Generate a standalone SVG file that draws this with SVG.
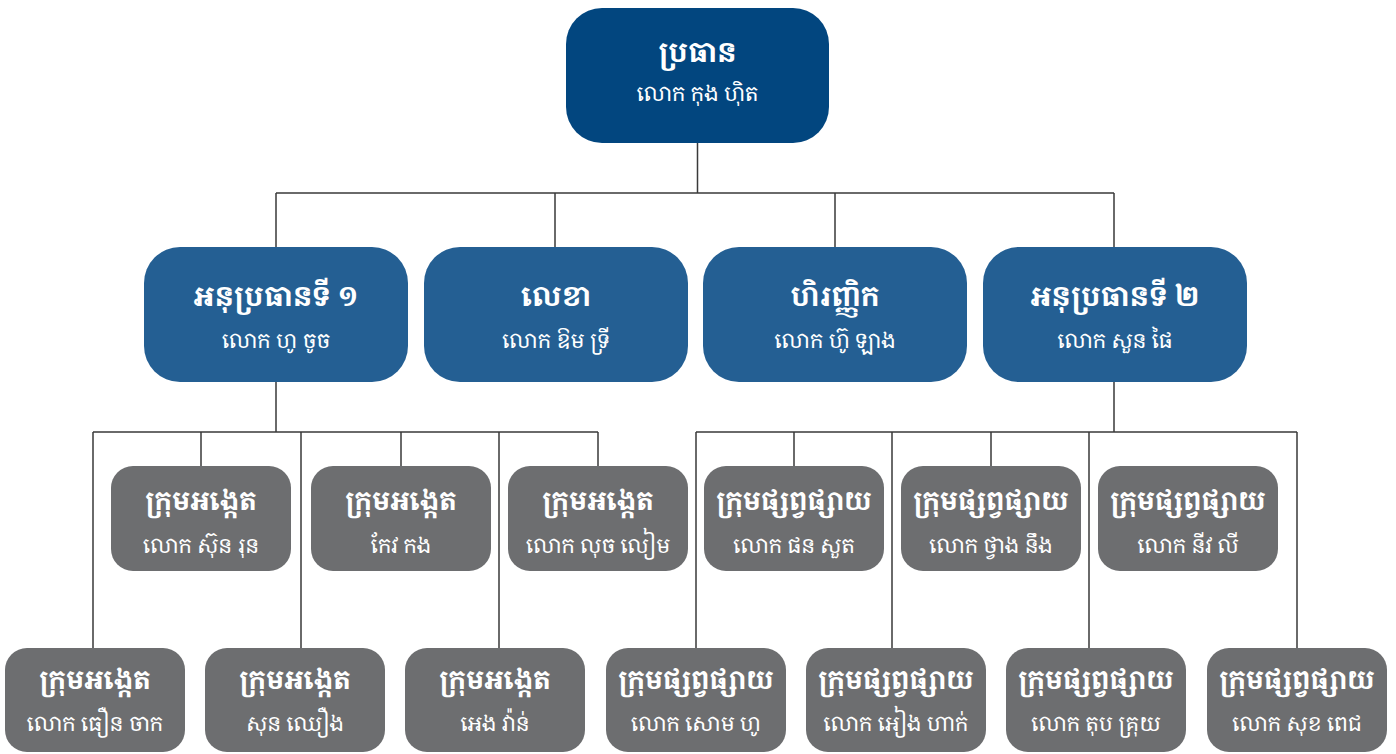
<svg xmlns="http://www.w3.org/2000/svg" width="1396" height="754" viewBox="0 0 1396 754">
<style>
text{font-family:"Noto Serif Khmer","Khmer OS Battambang","Noto Sans Khmer","Khmer OS",sans-serif;fill:#fff;text-anchor:middle}
.t1{font-size:28px;font-weight:bold}
.t2{font-size:21px}
.t3{font-size:26px;font-weight:bold}
.top{fill:#02467f}
.l2{fill:#245f93}
.gr{fill:#6d6e70}
#connectors path{fill:none;stroke:#3a3a3a;stroke-width:1.5}
</style>
<rect width="1396" height="754" fill="#fff"/>
<g id="connectors">
<path d="M697.5 143V193M276 193H1114M276 193V247M555 193V247M835 193V247M1114 193V247"/>
<path d="M276 382V432M93 432H598M93 432V648M201 432V466M301 432V648M401 432V466M499 432V648M598 432V466"/>
<path d="M1114 382V432M696 432H1297M696 432V648M794 432V466M892 432V648M991 432V466M1089 432V648M1297 432V648"/>
</g>
<g id="n-chair"><rect class="top" x="566" y="8" width="263" height="135" rx="36"/><text class="t1" x="697.5" y="62">ប្រធាន</text><text class="t2" x="697.5" y="101">លោក កុង ហ៊ិត</text></g>
<g id="n-vice1"><rect class="l2" x="144" y="247" width="264" height="135" rx="36"/><text class="t1" x="276" y="306">អនុប្រធានទី ១</text><text class="t2" x="276" y="348">លោក ហូ ចូច</text></g>
<g id="n-secretary"><rect class="l2" x="424" y="247" width="264" height="135" rx="36"/><text class="t1" x="556" y="306">លេខា</text><text class="t2" x="556" y="348">លោក ឱម ទ្រី</text></g>
<g id="n-treasurer"><rect class="l2" x="703" y="247" width="264" height="135" rx="36"/><text class="t1" x="835" y="306">ហិរញ្ញិក</text><text class="t2" x="835" y="348">លោក ហ៊ូ ឡាង</text></g>
<g id="n-vice2"><rect class="l2" x="983" y="247" width="264" height="135" rx="36"/><text class="t1" x="1115" y="306">អនុប្រធានទី ២</text><text class="t2" x="1115" y="348">លោក សួន ផៃ</text></g>
<g id="n-a1"><rect class="gr" x="111" y="466" width="180" height="105" rx="22"/><text class="t3" x="201" y="510">ក្រុមអង្កេត</text><text class="t2" x="201" y="553">លោក ស៊ុន រុន</text></g>
<g id="n-a2"><rect class="gr" x="311" y="466" width="180" height="105" rx="22"/><text class="t3" x="401" y="510">ក្រុមអង្កេត</text><text class="t2" x="401" y="553">កែវ កង</text></g>
<g id="n-a3"><rect class="gr" x="508" y="466" width="180" height="105" rx="22"/><text class="t3" x="598" y="510">ក្រុមអង្កេត</text><text class="t2" x="598" y="553">លោក លុច លៀម</text></g>
<g id="n-b1"><rect class="gr" x="704" y="466" width="180" height="105" rx="22"/><text class="t3" x="794" y="510">ក្រុមផ្សព្វផ្សាយ</text><text class="t2" x="794" y="553">លោក ផន សួត</text></g>
<g id="n-b2"><rect class="gr" x="901" y="466" width="180" height="105" rx="22"/><text class="t3" x="991" y="510">ក្រុមផ្សព្វផ្សាយ</text><text class="t2" x="991" y="553">លោក ថ្វាង នឹង</text></g>
<g id="n-b3"><rect class="gr" x="1098" y="466" width="180" height="105" rx="22"/><text class="t3" x="1188" y="510">ក្រុមផ្សព្វផ្សាយ</text><text class="t2" x="1188" y="553">លោក នីវ លី</text></g>
<g id="n-a4"><rect class="gr" x="5" y="648" width="180" height="104" rx="22"/><text class="t3" x="95" y="689">ក្រុមអង្កេត</text><text class="t2" x="95" y="731">លោក ធឿន ចាក</text></g>
<g id="n-a5"><rect class="gr" x="205" y="648" width="180" height="104" rx="22"/><text class="t3" x="295" y="689">ក្រុមអង្កេត</text><text class="t2" x="295" y="731">សុន ឈឿង</text></g>
<g id="n-a6"><rect class="gr" x="405" y="648" width="180" height="104" rx="22"/><text class="t3" x="495" y="689">ក្រុមអង្កេត</text><text class="t2" x="495" y="731">អេង វ៉ាន់</text></g>
<g id="n-b4"><rect class="gr" x="606" y="648" width="180" height="104" rx="22"/><text class="t3" x="696" y="689">ក្រុមផ្សព្វផ្សាយ</text><text class="t2" x="696" y="731">លោក សោម ហូ</text></g>
<g id="n-b5"><rect class="gr" x="806" y="648" width="180" height="104" rx="22"/><text class="t3" x="896" y="689">ក្រុមផ្សព្វផ្សាយ</text><text class="t2" x="896" y="731">លោក អៀង ហាក់</text></g>
<g id="n-b6"><rect class="gr" x="1006" y="648" width="180" height="104" rx="22"/><text class="t3" x="1096" y="689">ក្រុមផ្សព្វផ្សាយ</text><text class="t2" x="1096" y="731">លោក តុប គ្រុយ</text></g>
<g id="n-b7"><rect class="gr" x="1207" y="648" width="180" height="104" rx="22"/><text class="t3" x="1297" y="689">ក្រុមផ្សព្វផ្សាយ</text><text class="t2" x="1297" y="731">លោក សុខ ពេជ</text></g>
</svg>
